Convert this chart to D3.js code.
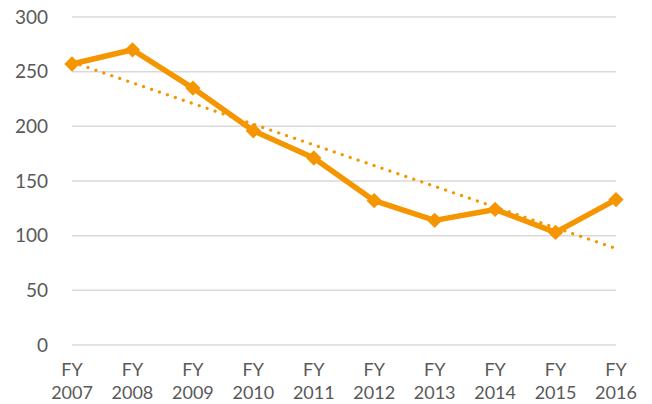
<!DOCTYPE html>
<head>
  <meta charset="utf-8">
  <script src="https://cdn.jsdelivr.net/npm/d3@7"></script>
  <style>
    body { margin: 0; background: #fff; }
    text { font-family: Lato, "Open Sans", sans-serif; fill: #595959; }
  </style>
</head>
<body>
<script>
// data
var years = ["2007", "2008", "2009", "2010", "2011", "2012", "2013", "2014", "2015", "2016"]
var values = [257, 270, 235, 196, 171, 132, 114, 124, 103, 133]
var yTicks = [0, 50, 100, 150, 200, 250, 300]

var margin = {top: 17, right: 36, bottom: 59, left: 72},
    width = 652 - margin.left - margin.right,
    height = 404 - margin.top - margin.bottom

var orange = "#F59500"

var svg = d3.select("body").append("svg").attr("width", 652).attr("height", 404)
  .append("g").attr("transform", "translate(" + margin.left + "," + margin.top + ")")

var xScale = d3.scalePoint().domain(years).range([0, width])
var yScale = d3.scaleLinear().domain([0, 300]).range([height, 0])

// gridlines
svg.append("g").selectAll("line").data(yTicks).enter().append("line")
  .attr("x1", 0).attr("x2", width)
  .attr("y1", d => yScale(d)).attr("y2", d => yScale(d))
  .attr("stroke", "#d9d9d9").attr("stroke-width", 1.5)

// y axis labels
var yAxis = d3.axisLeft(yScale).tickValues(yTicks).tickSize(0).tickPadding(24)
var yg = svg.append("g").call(yAxis)
yg.select(".domain").remove()
yg.selectAll("text").attr("font-size", "19px").style("fill", "#595959")

// x axis labels, two lines
var xg = svg.append("g").attr("transform", "translate(0," + height + ")")
xg.selectAll("text.fy").data(years).enter().append("text")
  .attr("x", d => xScale(d)).attr("y", 31).attr("text-anchor", "middle")
  .attr("font-size", "18px").text("FY")
xg.selectAll("text.yr").data(years).enter().append("text")
  .attr("x", d => xScale(d)).attr("y", 54).attr("text-anchor", "middle")
  .attr("font-size", "18px").text(d => d)

// linear trendline (least squares)
var n = values.length
var mx = d3.mean(values, (d, i) => i), my = d3.mean(values)
var sxy = d3.sum(values, (d, i) => (i - mx) * (d - my))
var sxx = d3.sum(values, (d, i) => (i - mx) * (i - mx))
var slope = sxy / sxx, icpt = my - slope * mx
var trend = [0, n - 1].map(i => ({x: years[i], y: icpt + slope * i}))

svg.append("path").datum(trend)
  .attr("fill", "none").attr("stroke", orange).attr("stroke-width", 3.2)
  .attr("stroke-linecap", "round").attr("stroke-dasharray", "0.1 8.3")
  .attr("d", d3.line().x(d => xScale(d.x)).y(d => yScale(d.y)))

// main line
svg.append("path").datum(values)
  .attr("fill", "none").attr("stroke", orange).attr("stroke-width", 5.5)
  .attr("stroke-linejoin", "round")
  .attr("d", d3.line().x((d, i) => xScale(years[i])).y(d => yScale(d)))

// diamond markers
svg.append("g").selectAll("path").data(values).enter().append("path")
  .attr("transform", (d, i) => "translate(" + xScale(years[i]) + "," + yScale(d) + ")")
  .attr("d", d3.symbol().type(d3.symbolDiamond2).size(150))
  .attr("fill", orange)
</script>
</body>
